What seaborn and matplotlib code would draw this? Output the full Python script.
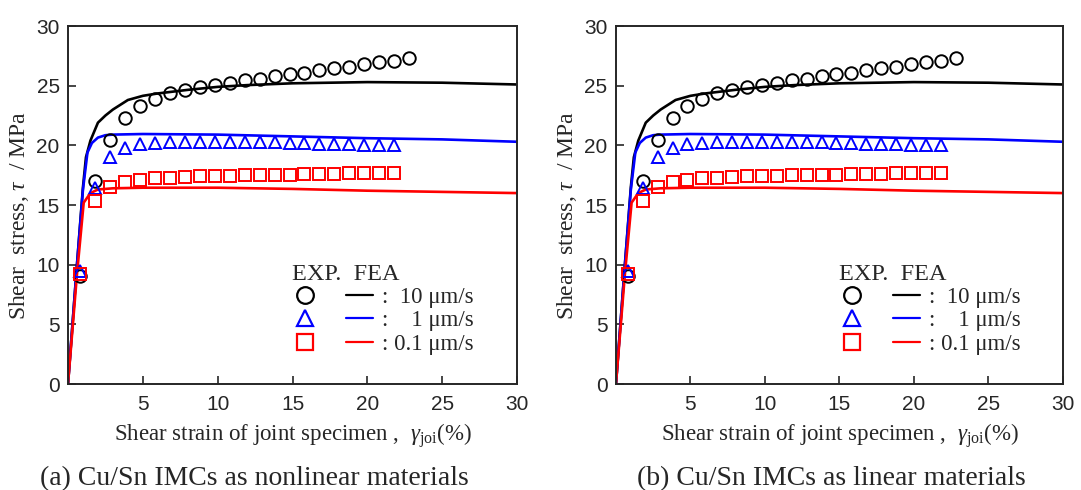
import numpy as np
import pandas as pd
import matplotlib
matplotlib.use("Agg")
import matplotlib.pyplot as plt
from matplotlib.lines import Line2D
import seaborn as sns

# ---- Experimental data (EXP.) ----
exp_x_10 = [0.8, 1.8, 2.8, 3.8, 4.8, 5.8, 6.8, 7.8, 8.8, 9.8, 10.8, 11.8, 12.8,
            13.8, 14.8, 15.8, 16.8, 17.8, 18.8, 19.8, 20.8, 21.8, 22.8]
exp_y_10 = [9.05, 17.0, 20.45, 22.3, 23.3, 23.9, 24.35, 24.65, 24.85, 25.05, 25.25,
            25.45, 25.6, 25.78, 25.95, 26.1, 26.28, 26.45, 26.6, 26.8, 26.95, 27.1, 27.3]
exp_x_1 = [0.8, 1.8, 2.8, 3.8, 4.8, 5.8, 6.8, 7.8, 8.8, 9.8, 10.8, 11.8, 12.8,
           13.8, 14.8, 15.8, 16.8, 17.8, 18.8, 19.8, 20.8, 21.8]
exp_y_1 = [9.5, 16.4, 19.0, 19.8, 20.1, 20.2, 20.3, 20.3, 20.3, 20.3, 20.3, 20.3,
           20.3, 20.25, 20.2, 20.2, 20.15, 20.1, 20.1, 20.05, 20.0, 20.0]
exp_x_01 = [0.8, 1.8, 2.8, 3.8, 4.8, 5.8, 6.8, 7.8, 8.8, 9.8, 10.8, 11.8, 12.8,
            13.8, 14.8, 15.8, 16.8, 17.8, 18.8, 19.8, 20.8, 21.8]
exp_y_01 = [9.2, 15.3, 16.5, 16.9, 17.1, 17.25, 17.3, 17.37, 17.4, 17.43, 17.45,
            17.5, 17.5, 17.55, 17.55, 17.6, 17.6, 17.6, 17.65, 17.65, 17.65, 17.7]

# ---- FEA curves ----
fea_x_10 = [0, 0.6, 1.0, 1.2, 1.5, 2.0, 2.5, 3, 4, 5, 6, 8, 10, 12, 15, 20, 25, 30]
fea_y_10 = [0, 10, 16.5, 19.0, 20.4, 21.9, 22.5, 23.0, 23.8, 24.15, 24.35, 24.65,
            24.9, 25.05, 25.2, 25.3, 25.25, 25.1]
fea_x_1 = [0, 0.6, 1.0, 1.3, 1.6, 2.0, 2.5, 3, 5, 10, 15, 20, 25, 30]
fea_y_1 = [0, 10, 16.3, 19.4, 20.2, 20.65, 20.85, 20.9, 20.95, 20.9, 20.75, 20.6,
           20.5, 20.3]
fea_x_01 = [0, 0.6, 1.05, 1.5, 2.0, 3, 5, 10, 15, 20, 25, 30]
fea_y_01 = [0, 9.2, 15.2, 16.0, 16.3, 16.4, 16.45, 16.45, 16.35, 16.2, 16.1, 16.0]

series_labels = [":  10 \u03bcm/s", ":    1 \u03bcm/s", ": 0.1 \u03bcm/s"]
colors = ["black", "#0000ff", "#ff0000"]
markers = ["o", "^", "s"]
captions = ["(a) Cu/Sn IMCs as nonlinear materials", "(b) Cu/Sn IMCs as linear materials"]
caption_x = [0.235, 0.769]
x_ticks = [5, 10, 15, 20, 25, 30]
y_ticks = [0, 5, 10, 15, 20, 25, 30]

sns.set_style("ticks")
plt.rcParams["font.family"] = ["Liberation Sans", "DejaVu Sans"]
plt.rcParams["mathtext.fontset"] = "custom"
plt.rcParams["mathtext.rm"] = "Liberation Serif"
plt.rcParams["mathtext.it"] = "Liberation Serif:italic"

exp_sets = [(exp_x_10, exp_y_10), (exp_x_1, exp_y_1), (exp_x_01, exp_y_01)]
fea_sets = [(fea_x_10, fea_y_10), (fea_x_1, fea_y_1), (fea_x_01, fea_y_01)]

fig = plt.figure(figsize=(10.81, 4.90), dpi=100)
axes = [fig.add_axes([0.0629, 0.2163, 0.4154, 0.7306]),
        fig.add_axes([0.5698, 0.2163, 0.4135, 0.7306])]

serif = ["Liberation Serif", "DejaVu Serif"]

for ax, cap, cx in zip(axes, captions, caption_x):
    for (fx, fy), c in zip(fea_sets, colors):
        df = pd.DataFrame({"x": fx, "y": fy})
        sns.lineplot(data=df, x="x", y="y", ax=ax, color=c, lw=1.9,
                     estimator=None, sort=False, zorder=2)
    for (ex, ey), c, m in zip(exp_sets, colors, markers):
        df = pd.DataFrame({"x": ex, "y": ey})
        sns.lineplot(data=df, x="x", y="y", ax=ax, estimator=None, sort=False,
                     linestyle="none", marker=m, markersize=9,
                     markerfacecolor="none", markeredgecolor=c,
                     markeredgewidth=1.4, zorder=3)
    ax.set_xlim(0, 30)
    ax.set_ylim(0, 30)
    ax.set_xticks(x_ticks)
    ax.set_yticks(y_ticks)
    ax.tick_params(axis="x", direction="in", length=6, width=1.2, labelsize=15,
                   top=False, pad=8)
    ax.tick_params(axis="y", direction="in", length=6, width=1.2, labelsize=15,
                   right=False, pad=6)
    for sp in ax.spines.values():
        sp.set_linewidth(1.4)
        sp.set_visible(True)
    ax.set_xlabel("Shear strain of joint specimen ,  $\\gamma_{\\rm joi}$(%)",
                  family=serif, fontsize=16.5, labelpad=5)
    ax.set_ylabel("Shear  stress, $\\tau$  / MPa", family=serif, fontsize=17,
                  labelpad=2)
    ax.yaxis.set_label_coords(-0.083, 0.47)

    mk = [Line2D([], [], linestyle="none", marker=m, markersize=12,
                 markerfacecolor="none", markeredgecolor=c, markeredgewidth=1.6)
          for m, c in zip(markers, colors)]
    ln = [Line2D([], [], color=c, lw=1.6) for c in colors]
    leg = ax.legend(mk + ln, ["", "", ""] + series_labels, ncol=2,
                    title="EXP.  FEA", alignment="left", frameon=False,
                    loc="upper left", bbox_to_anchor=(0.499, 0.336),
                    prop={"family": serif, "size": 16.5},
                    title_fontproperties={"family": serif, "size": 17.5},
                    handlelength=1.17, handletextpad=0.4, columnspacing=0.8,
                    labelspacing=0.1, borderpad=0, borderaxespad=0)

    fig.text(cx, 0.010, cap, ha="center", va="baseline",
             family=serif, fontsize=20)

fig.savefig("out.png", dpi=100)
